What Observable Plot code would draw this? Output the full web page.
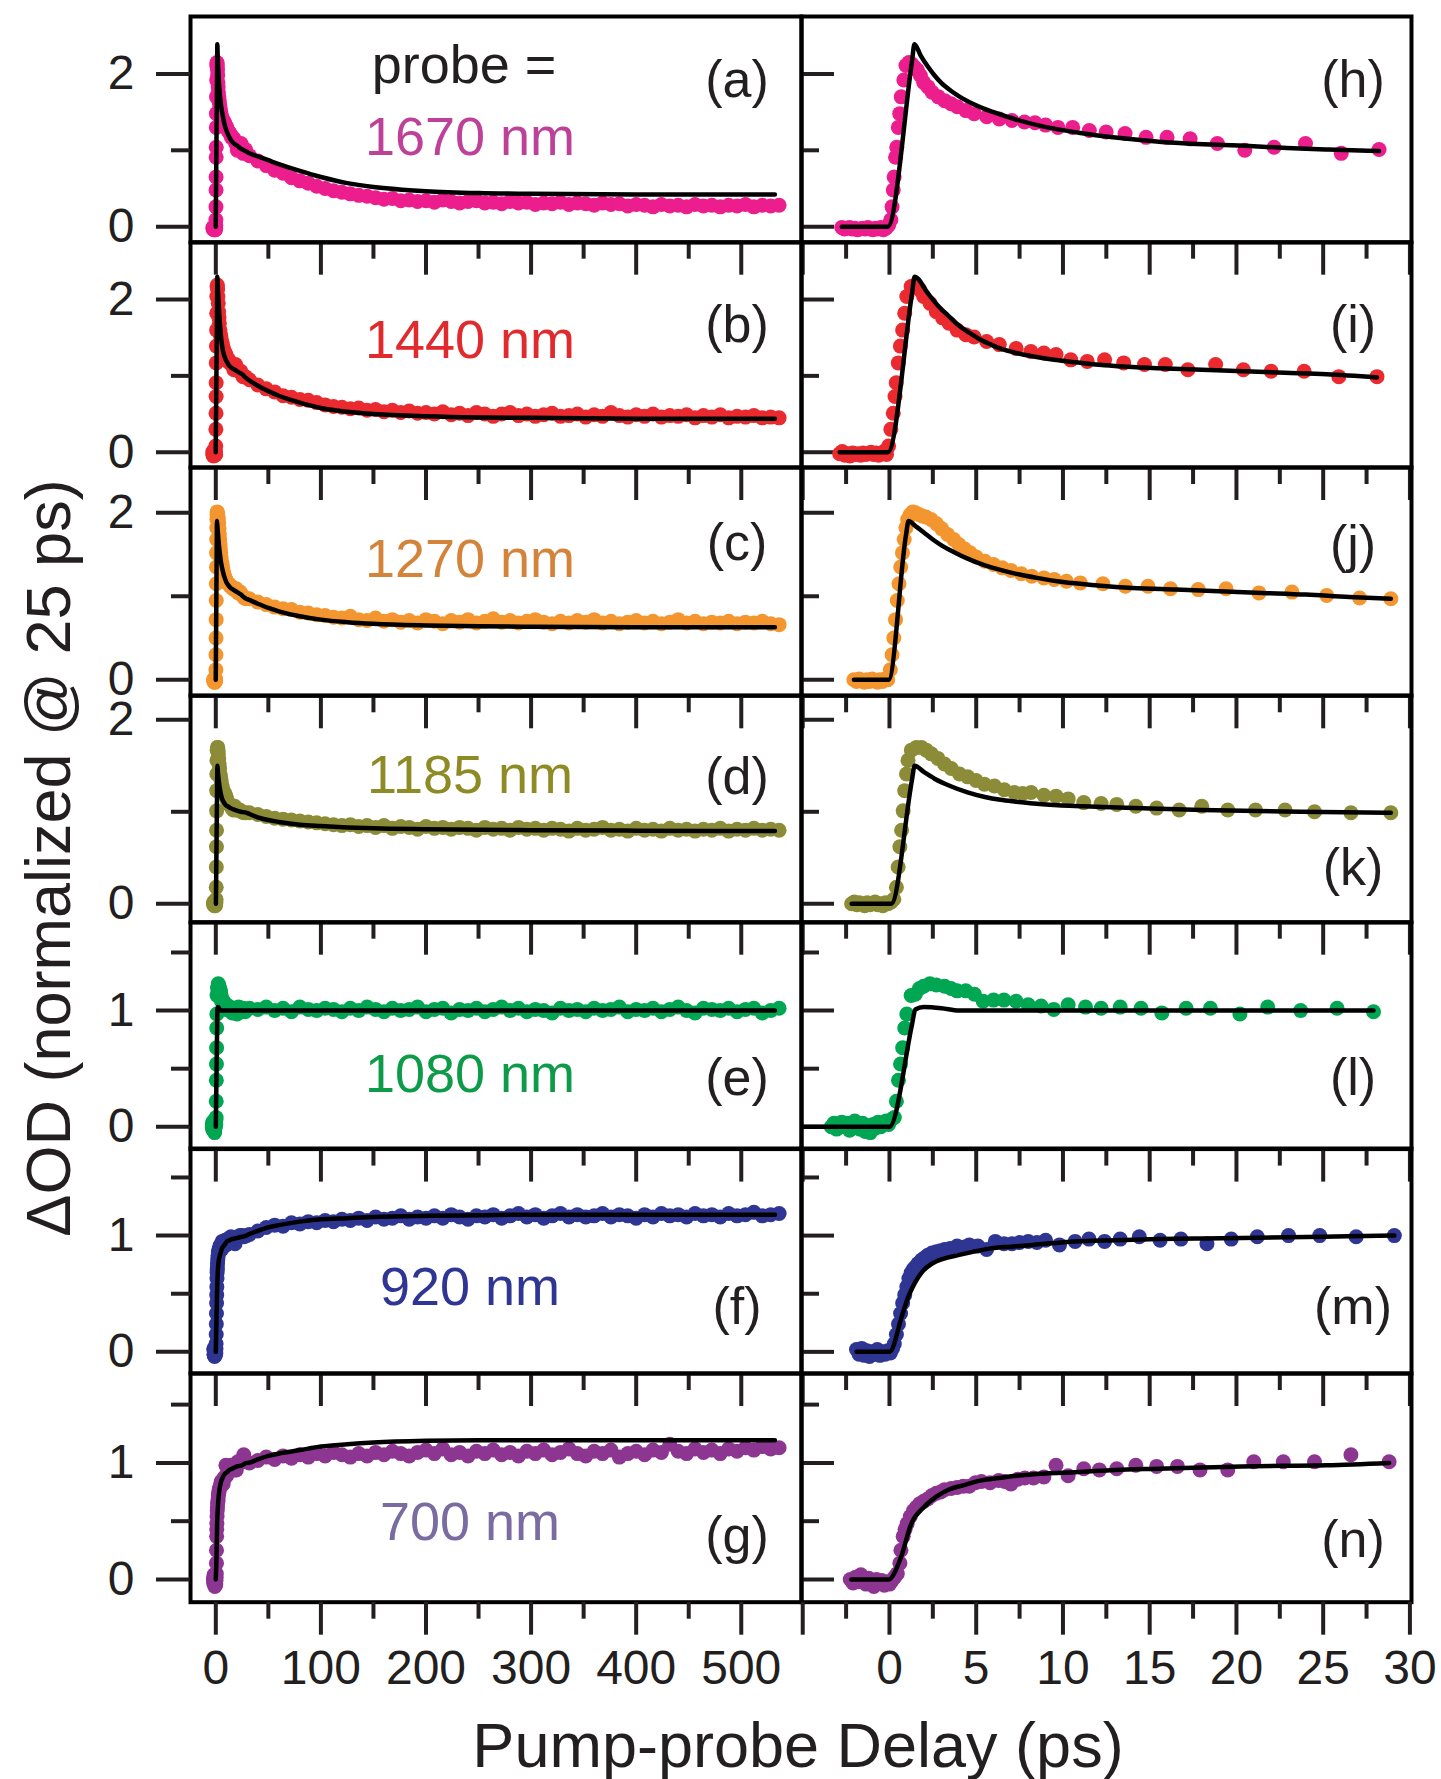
<!DOCTYPE html>
<html><head><meta charset="utf-8">
<script src="https://cdn.jsdelivr.net/npm/d3@7"></script>
<script src="https://cdn.jsdelivr.net/npm/@observablehq/plot@0.6"></script>
<style>
body{margin:0;background:#fff;}
#fig{position:relative;width:1441px;height:1779px;background:#fff;overflow:hidden;}
#fig svg{position:absolute;overflow:visible;}
</style></head><body><div id="fig"></div>
<script>
// ---------- DATA ----------
const wavelengths = ["1670 nm","1440 nm","1270 nm","1185 nm","1080 nm","920 nm","700 nm"];
const lettersLeft = ["(a)","(b)","(c)","(d)","(e)","(f)","(g)"];
const lettersRight = ["(h)","(i)","(j)","(k)","(l)","(m)","(n)"];

const xTicksLeftMajor = [0,100,200,300,400,500];
const xTicksLeftMinor = [50,150,250,350,450];
const xTicksRightMajor = [-5,0,5,10,15,20,25,30];
const xTicksRightMinor = [-2.5,2.5,7.5,12.5,17.5,22.5,27.5];
const xLabelsLeft = [0,100,200,300,400,500];
const xLabelsRight = [0,5,10,15,20,25,30];
const yMajorHigh = [0,2], yMinorHigh = [1];
const yMajorLow = [0,1], yMinorLow = [0.5,1.5];

// early-time data (delay ps, dOD) shown in the right column and in the left column
const short1670 = [[-2.75,-0.01],[-2.6,-0.03],[-2.45,-0.02],[-2.3,-0.01],[-2.15,-0.03],[-2.0,-0.02],[-1.85,-0.04],[-1.7,-0.03],[-1.55,-0.02],[-1.4,-0.03],[-1.25,-0.01],[-1.1,-0.03],[-0.95,-0.04],[-0.8,-0.02],[-0.65,-0.03],[-0.5,-0.01],[-0.35,-0.04],[-0.2,-0.02],[-0.05,0.02],
[0.08,0.09],[0.15,0.26],[0.22,0.48],[0.27,0.65],[0.35,0.91],[0.42,1.04],[0.51,1.30],[0.59,1.48],[0.68,1.70],[0.83,1.92],[0.95,2.11],[1.12,2.15],[1.29,2.13],[1.44,2.09],[1.61,2.05],[1.78,1.98],[1.97,1.89],[2.22,1.83],[2.46,1.76],[2.82,1.70],[3.18,1.65],[3.55,1.61],[3.91,1.57],[4.40,1.52],[4.88,1.48],[5.61,1.44],[6.33,1.41],[7.06,1.39],[7.78,1.37],[8.39,1.36],[9.0,1.33],
[9.71,1.30],[10.56,1.30],[11.52,1.26],[12.49,1.24],[13.58,1.22],[14.79,1.17],[16.0,1.17],[17.33,1.15],[18.9,1.09],[20.48,1.00],[22.17,1.04],[23.98,1.09],[26.04,0.96],[28.22,1.01]];
const short1440 = [[-2.87,-0.02],[-2.72,0.01],[-2.57,-0.04],[-2.42,-0.02],[-2.27,-0.05],[-2.12,-0.01],[-1.97,-0.03],[-1.82,-0.02],[-1.67,-0.04],[-1.52,-0.01],[-1.37,-0.03],[-1.22,-0.02],[-1.07,0.0],[-0.92,-0.03],[-0.77,-0.01],[-0.62,-0.04],[-0.47,-0.02],[-0.32,0.01],[-0.17,-0.03],[-0.05,0.08],
[0.08,0.30],[0.22,0.51],[0.32,0.73],[0.39,0.91],[0.51,1.17],[0.63,1.39],[0.76,1.60],[0.88,1.82],[1.0,2.04],[1.25,2.17],[1.49,2.19],[1.73,2.13],[1.97,2.04],[2.34,1.95],[2.7,1.84],[3.06,1.76],[3.43,1.69],[3.9,1.60],[4.4,1.54],[4.88,1.51],[5.6,1.45],[6.33,1.41],[7.3,1.36],[8.15,1.32],[8.9,1.30],[9.6,1.28],
[10.45,1.21],[11.4,1.19],[12.4,1.21],[13.5,1.17],[14.7,1.15],[15.9,1.15],[17.2,1.08],[18.8,1.15],[20.4,1.08],[22.0,1.06],[23.9,1.06],[25.9,0.99],[28.1,0.99]];
const short1270 = [[-2.05,0.0],[-1.9,-0.02],[-1.75,0.01],[-1.6,-0.01],[-1.45,-0.03],[-1.3,0.0],[-1.15,-0.02],[-1.0,0.01],[-0.85,-0.01],[-0.7,-0.03],[-0.55,0.0],[-0.4,-0.02],[-0.25,0.01],[-0.1,0.0],
[0.05,0.12],[0.15,0.3],[0.25,0.5],[0.35,0.72],[0.45,0.95],[0.55,1.15],[0.65,1.35],[0.75,1.52],[0.85,1.68],[0.95,1.82],[1.05,1.92],[1.2,1.98],[1.35,2.01],[1.5,2.0],[1.7,1.98],[1.9,1.96],[2.1,1.95],[2.4,1.92],[2.7,1.87],[3.0,1.81],[3.35,1.74],[3.7,1.68],[4.0,1.62],[4.3,1.57],[4.65,1.52],[5.0,1.47],[5.5,1.42],[6.0,1.38],[6.5,1.34],[7.0,1.31],[7.6,1.27],[8.2,1.24],[8.9,1.22],[9.5,1.20],[10.2,1.18],
[11.0,1.16],[12.3,1.15],[13.6,1.12],[14.9,1.12],[16.2,1.09],[17.8,1.08],[19.4,1.09],[21.3,1.04],[23.2,1.05],[25.2,1.01],[27.1,0.98],[28.9,0.97]];
const short1185 = [[-2.18,0.0],[-2.03,0.02],[-1.88,-0.01],[-1.73,0.01],[-1.58,0.0],[-1.43,-0.02],[-1.28,0.01],[-1.13,-0.01],[-0.98,0.0],[-0.83,0.02],[-0.68,-0.01],[-0.53,0.0],[-0.38,-0.02],[-0.23,0.01],[-0.08,0.0],[0.1,0.02],[0.25,0.05],
[0.4,0.18],[0.5,0.40],[0.6,0.62],[0.7,0.80],[0.79,1.01],[0.88,1.23],[0.98,1.41],[1.07,1.56],[1.26,1.67],[1.55,1.70],[1.84,1.70],[2.12,1.67],[2.41,1.63],[2.79,1.58],[3.17,1.52],[3.56,1.47],[4.04,1.41],[4.51,1.38],[4.99,1.34],[5.47,1.30],[6.05,1.28],[6.62,1.24],[7.2,1.21],[7.68,1.20],[8.16,1.21],[8.9,1.18],[9.6,1.17],[10.3,1.14],
[11.2,1.10],[12.2,1.09],[13.1,1.08],[14.2,1.06],[15.4,1.04],[16.7,1.02],[18.0,1.06],[19.5,1.02],[21.1,1.02],[22.8,1.02],[24.5,1.0],[26.6,0.99],[28.9,0.99]];
const short1080 = [[-3.35,0.0],[-3.2,0.03],[-3.05,-0.02],[-2.9,0.01],[-2.75,0.04],[-2.6,0.0],[-2.45,0.03],[-2.3,-0.03],[-2.15,0.02],[-2.0,0.05],[-1.85,0.01],[-1.7,-0.02],[-1.55,0.03],[-1.4,-0.04],[-1.25,0.01],[-1.1,-0.05],[-0.95,0.02],[-0.8,-0.01],[-0.65,0.04],[-0.5,0.0],[-0.35,0.03],[-0.2,0.05],[-0.05,0.02],[0.1,0.06],
[0.28,0.08],[0.4,0.22],[0.52,0.40],[0.64,0.54],[0.76,0.68],[0.88,0.85],[1.0,0.97],[1.25,1.13],[1.49,1.14],[1.73,1.19],[1.97,1.21],[2.33,1.23],[2.7,1.22],[3.18,1.21],[3.55,1.19],[3.9,1.17],[4.4,1.17],[4.9,1.14],[5.4,1.08],[6.0,1.09],[6.6,1.09],[7.3,1.08],[8.0,1.05],[8.74,1.04],[9.47,1.01],
[10.3,1.05],[11.3,1.03],[12.2,1.02],[13.3,1.03],[14.5,1.02],[15.7,0.98],[17.1,1.02],[18.5,1.02],[20.2,0.97],[21.8,1.03],[23.7,1.0],[25.8,1.02],[27.9,0.99]];
const short920 = [[-1.9,0.02],[-1.75,-0.02],[-1.6,0.03],[-1.45,-0.03],[-1.3,0.01],[-1.15,-0.04],[-1.0,0.0],[-0.85,-0.02],[-0.7,0.02],[-0.55,-0.03],[-0.4,0.0],[-0.25,-0.02],[-0.1,0.01],[0.05,-0.01],[0.18,0.03],
[0.28,0.07],[0.4,0.15],[0.52,0.24],[0.64,0.33],[0.76,0.42],[0.88,0.49],[1.0,0.56],[1.12,0.63],[1.25,0.68],[1.37,0.71],[1.49,0.73],[1.65,0.76],[1.85,0.79],[2.03,0.81],[2.21,0.83],[2.45,0.85],[2.7,0.86],[2.95,0.87],[3.18,0.88],[3.5,0.89],[3.9,0.91],[4.25,0.90],[4.6,0.92],[5.1,0.91],[5.6,0.88],[6.1,0.95],[6.6,0.93],[7.06,0.93],[7.5,0.94],[8.0,0.95],[8.5,0.94],[9.0,0.96],
[9.8,0.92],[10.7,0.95],[11.5,0.97],[12.4,0.95],[13.3,0.97],[14.4,0.99],[15.6,0.96],[16.8,0.97],[18.3,0.93],[19.7,0.97],[21.2,0.99],[23.0,1.0],[24.8,1.0],[26.9,0.99],[29.1,1.0]];
const short700 = [[-2.26,0.0],[-2.1,-0.03],[-1.95,0.02],[-1.8,-0.02],[-1.65,0.04],[-1.5,0.0],[-1.35,-0.04],[-1.2,0.01],[-1.05,-0.02],[-0.9,-0.06],[-0.75,0.0],[-0.6,-0.03],[-0.45,-0.01],[-0.3,-0.05],[-0.15,-0.02],[0.0,-0.04],[0.15,-0.01],[0.3,0.02],[0.45,0.05],
[0.6,0.14],[0.66,0.25],[0.79,0.37],[0.9,0.43],[1.02,0.48],[1.2,0.54],[1.38,0.59],[1.55,0.62],[1.74,0.65],[1.97,0.67],[2.2,0.69],[2.45,0.72],[2.7,0.74],[2.95,0.75],[3.17,0.77],[3.55,0.78],[3.9,0.79],[4.25,0.80],[4.6,0.80],[4.95,0.83],[5.3,0.84],[5.8,0.83],[6.3,0.85],[6.65,0.84],[7.0,0.82],[7.4,0.86],[7.8,0.87],[8.3,0.87],[8.9,0.88],
[9.6,0.98],[10.3,0.89],[11.2,0.95],[12.1,0.94],[13.1,0.95],[14.2,0.98],[15.4,0.97],[16.6,0.97],[17.9,0.94],[19.5,0.94],[21.0,1.01],[22.7,1.01],[24.5,1.01],[26.6,1.07],[28.8,1.01]];

// long-time data (left column only), shared delay grid
const tLong = [32,40,48,56,64,72,80,88,96,104,112,120,128,136,144,152,160,168,176,184,192,200,208,216,224,232,240,248,256,264,272,280,288,296,304,312,320,328,336,344,352,360,368,376,384,392,400,408,416,424,432,440,448,456,464,472,480,488,496,504,512,520,528,536];
const long1670 = [0.93,0.86,0.80,0.74,0.70,0.64,0.60,0.57,0.53,0.50,0.47,0.45,0.43,0.41,0.40,0.38,0.36,0.37,0.34,0.35,0.33,0.34,0.32,0.35,0.33,0.31,0.33,0.34,0.31,0.32,0.30,0.33,0.31,0.32,0.29,0.31,0.30,0.32,0.29,0.31,0.30,0.28,0.31,0.29,0.30,0.27,0.29,0.28,0.26,0.29,0.27,0.28,0.26,0.29,0.27,0.28,0.26,0.28,0.27,0.29,0.26,0.28,0.27,0.28];
const long1440 = [0.95,0.88,0.83,0.79,0.74,0.72,0.69,0.68,0.65,0.62,0.60,0.59,0.57,0.58,0.55,0.56,0.53,0.55,0.52,0.54,0.51,0.52,0.50,0.53,0.49,0.51,0.48,0.52,0.50,0.47,0.50,0.52,0.48,0.50,0.47,0.49,0.51,0.47,0.48,0.50,0.46,0.49,0.47,0.52,0.48,0.46,0.49,0.47,0.50,0.46,0.48,0.47,0.49,0.45,0.48,0.46,0.49,0.45,0.47,0.46,0.48,0.45,0.46,0.45];
const long1270 = [0.97,0.93,0.90,0.87,0.85,0.84,0.81,0.80,0.78,0.77,0.75,0.74,0.76,0.72,0.71,0.74,0.70,0.72,0.69,0.71,0.68,0.72,0.70,0.67,0.71,0.69,0.72,0.68,0.70,0.73,0.69,0.71,0.68,0.70,0.72,0.69,0.67,0.70,0.68,0.71,0.69,0.72,0.68,0.70,0.67,0.69,0.71,0.68,0.70,0.67,0.69,0.72,0.68,0.70,0.67,0.69,0.68,0.70,0.67,0.69,0.68,0.70,0.67,0.66];
const long1185 = [0.99,0.97,0.95,0.93,0.92,0.91,0.90,0.89,0.88,0.87,0.86,0.85,0.86,0.84,0.85,0.83,0.85,0.82,0.84,0.83,0.81,0.84,0.82,0.83,0.81,0.83,0.82,0.80,0.83,0.81,0.82,0.80,0.83,0.81,0.82,0.80,0.82,0.81,0.79,0.82,0.80,0.81,0.83,0.80,0.81,0.79,0.82,0.80,0.81,0.79,0.82,0.80,0.81,0.79,0.81,0.80,0.82,0.79,0.81,0.80,0.82,0.80,0.81,0.80];
const long1080 = [1.02,1.01,1.03,1.00,1.02,0.99,1.03,1.01,1.00,1.02,1.01,0.99,1.02,1.00,1.03,1.01,0.99,1.02,1.00,1.01,1.03,0.99,1.01,1.02,0.98,1.01,1.00,1.02,0.99,1.01,1.03,1.00,1.02,0.99,1.01,1.00,0.98,1.02,1.00,1.01,0.99,1.02,1.00,1.01,1.03,0.99,1.01,1.00,1.02,0.99,1.01,1.03,1.00,0.98,1.02,1.01,1.00,1.02,0.99,1.01,1.02,0.98,1.00,1.02];
const long920 = [1.01,1.04,1.07,1.09,1.08,1.11,1.10,1.12,1.11,1.13,1.12,1.14,1.13,1.15,1.13,1.16,1.14,1.15,1.17,1.14,1.16,1.15,1.17,1.15,1.18,1.16,1.14,1.17,1.16,1.18,1.15,1.17,1.19,1.16,1.18,1.15,1.17,1.19,1.16,1.18,1.16,1.17,1.19,1.16,1.18,1.17,1.15,1.18,1.16,1.19,1.17,1.18,1.16,1.19,1.17,1.18,1.16,1.19,1.17,1.18,1.20,1.17,1.18,1.19];
const long700 = [1.00,1.02,1.05,1.03,1.06,1.04,1.07,1.05,1.08,1.06,1.09,1.07,1.05,1.08,1.06,1.09,1.07,1.10,1.08,1.06,1.09,1.11,1.08,1.12,1.07,1.09,1.06,1.10,1.08,1.11,1.07,1.09,1.06,1.10,1.08,1.11,1.07,1.09,1.12,1.08,1.06,1.10,1.08,1.11,1.05,1.08,1.10,1.07,1.11,1.09,1.16,1.10,1.08,1.12,1.09,1.11,1.08,1.12,1.10,1.13,1.11,1.14,1.12,1.13];

// fitted curves (delay ps, dOD)
const fit1670 = [[-2.75,0],[-0.1,0],[1.3,2.17],[1.44,2.39],[1.8,2.24],[2.2,2.1],[2.6,1.98],[3.0,1.88],[3.6,1.77],[4.2,1.68],[4.8,1.61],[5.4,1.55],[6.0,1.5],[7.2,1.41],[8.9,1.31],[10.9,1.23],[13.3,1.16],[15.7,1.11],[18.1,1.08],[20.5,1.06],[22.9,1.03],[25.3,1.01],[28.22,0.99],[30,0.975],[40,0.92],[50,0.87],[60,0.82],[80,0.73],[100,0.65],[125,0.57],[150,0.52],[200,0.465],[250,0.44],[300,0.43],[400,0.42],[532,0.42]];
const fit1440 = [[-2.87,0],[-0.09,0],[1.3,2.08],[1.45,2.3],[2.22,2.08],[2.8,1.92],[3.43,1.78],[4.0,1.66],[4.64,1.56],[5.2,1.48],[5.85,1.41],[6.5,1.35],[7.3,1.3],[8.4,1.25],[9.5,1.21],[10.7,1.18],[11.9,1.15],[13.7,1.12],[15.5,1.1],[18,1.08],[20.4,1.06],[22.8,1.04],[25.2,1.02],[28.1,0.98],[30,0.96],[40,0.87],[50,0.8],[60,0.74],[80,0.65],[100,0.58],[125,0.53],[150,0.5],[200,0.47],[250,0.455],[300,0.45],[400,0.44],[532,0.44]];
const fit1270 = [[-2.05,0],[-0.05,0],[0.95,1.73],[1.1,1.9],[1.5,1.84],[2.0,1.76],[2.5,1.68],[3.0,1.61],[3.7,1.53],[4.5,1.45],[5.5,1.37],[6.5,1.31],[7.5,1.26],[8.5,1.22],[10,1.17],[12,1.13],[14,1.1],[16.5,1.08],[19,1.06],[21.5,1.04],[24,1.02],[26.5,0.99],[28.9,0.97],[30,0.965],[40,0.91],[50,0.86],[60,0.82],[80,0.76],[100,0.72],[125,0.69],[150,0.67],[200,0.65],[250,0.64],[300,0.635],[400,0.63],[532,0.63]];
const fit1185 = [[-2.18,0],[0.1,0],[1.3,1.35],[1.45,1.5],[2.0,1.43],[2.6,1.36],[3.5,1.28],[4.5,1.21],[5.5,1.16],[6.4,1.13],[7.3,1.11],[8.3,1.09],[9.7,1.07],[11.2,1.06],[14.1,1.04],[18.0,1.02],[23.7,1.0],[28.9,0.99],[30,0.985],[40,0.94],[50,0.91],[60,0.89],[80,0.86],[100,0.845],[125,0.83],[150,0.82],[200,0.81],[300,0.8],[400,0.795],[532,0.79]];
const fit1080 = [[-5,0],[0.0,0],[1.3,0.88],[1.49,1.01],[1.97,1.03],[3.0,1.02],[4.0,1.0],[10,1.0],[27.9,1.0],[30,1.0],[100,1.0],[532,1.0]];
const fit920 = [[-1.9,0],[0.0,0],[0.76,0.33],[1.1,0.48],[1.49,0.6],[1.9,0.69],[2.46,0.76],[3.1,0.8],[3.9,0.83],[4.8,0.86],[5.85,0.89],[7.0,0.905],[8.26,0.92],[10.7,0.95],[13,0.96],[15.5,0.97],[18,0.975],[20.3,0.98],[25,0.99],[29.1,1.0],[30,1.005],[40,1.04],[50,1.07],[60,1.09],[80,1.12],[100,1.14],[125,1.15],[150,1.16],[200,1.17],[250,1.175],[300,1.18],[400,1.18],[532,1.18]];
const fit700 = [[-2.2,0],[-0.05,0],[0.66,0.19],[1.26,0.48],[1.98,0.62],[2.7,0.71],[3.4,0.77],[4.3,0.81],[5.3,0.85],[6.3,0.87],[7.3,0.89],[9,0.91],[10.7,0.92],[13,0.94],[15.5,0.95],[18,0.96],[20.3,0.97],[25.2,0.98],[28.8,1.0],[30,1.0],[40,1.03],[50,1.06],[60,1.08],[80,1.11],[100,1.14],[125,1.16],[150,1.175],[200,1.19],[250,1.195],[300,1.195],[532,1.195]];

const dotColors = ["#EC1D8D","#EA2A2F","#F4962F","#8C8C38","#00A651","#2E3592","#8C3591"];
const labelColors = ["#BE4199","#E12A2E","#D4843A","#8E8A24","#0D9B4A","#2F3593","#7A6BA0"];

// ---------- LAYOUT ----------
const FONT = '"Liberation Sans", Arial, Helvetica, sans-serif';
const INK = "#231f20";
const rowTops = [16,241.7,466.7,695,921.7,1148.3,1373.3,1602];
const yDomains = [[-0.203,2.752],[-0.2,2.747],[-0.192,2.542],[-0.2,2.264],[-0.192,1.758],[-0.186,1.749],[-0.195,1.767]];
const colLeft = {x0:190, x1:801, domain:[-24.07,557.3], major:xTicksLeftMajor, minor:xTicksLeftMinor, labels:xLabelsLeft};
const colRight = {x0:801, x1:1411, domain:[-5.07,30.09], major:xTicksRightMajor, minor:xTicksRightMinor, labels:xLabelsRight};
const labelBaselines = [155,358.3,577.3,793.3,1091.7,1305,1540];
const letterBaseL = [97,342,560,793.5,1095,1323.5,1553];
const letterBaseR = [97,342,562,885,1095,1323.5,1557];

const shorts = [short1670,short1440,short1270,short1185,short1080,short920,short700];
const longs = [long1670,long1440,long1270,long1185,long1080,long920,long700];
const fits = [fit1670,fit1440,fit1270,fit1185,fit1080,fit920,fit700];

const fig = document.getElementById("fig");
const blank = () => "";

function panel(i, col, side) {
  const last = i === 6;
  const top = rowTops[i], h = rowTops[i+1] - top, w = col.x1 - col.x0;
  const pairs = side === "L" ? shorts[i].concat(tLong.map((t, k) => [t, longs[i][k]])) : shorts[i];
  const data = pairs.map(([t, v]) => ({t, v}));
  const tMax = d3.max(shorts[i], d => d[0]);
  const fitData = fits[i]
    .filter(([t]) => side === "L" ? t >= -0.15 : t <= tMax + 1e-6)
    .map(([t, v]) => ({t, v}));
  const hi = i < 4;
  const yMaj = hi ? yMajorHigh : yMajorLow, yMin = hi ? yMinorHigh : yMinorLow;
  const marks = [
    Plot.dot(data, {x: "t", y: "v", r: 7.5, fill: dotColors[i], stroke: "none"}),
    Plot.line(fitData, {x: "t", y: "v", stroke: "#000", strokeWidth: 4.5, curve: "monotone-x"}),
    Plot.frame({stroke: "#000", strokeWidth: 4}),
    Plot.axisX(col.major, {anchor: "bottom", tickSize: 33, strokeWidth: 4, tickFormat: blank, label: null}),
    Plot.axisX(col.minor, {anchor: "bottom", tickSize: 17, strokeWidth: 4, tickFormat: blank, label: null})
  ];
  if (last) marks.push(Plot.axisX(col.labels, {anchor: "bottom", tickSize: 0, tickPadding: 48, fontSize: 48, tickFormat: d => String(d), label: null}));
  if (side === "L") {
    marks.push(
      Plot.axisY(yMaj, {anchor: "left", tickSize: 34, tickPadding: 22, strokeWidth: 4, fontSize: 48, tickFormat: d => String(d), label: null}),
      Plot.axisY(yMin, {anchor: "left", tickSize: 19, strokeWidth: 4, tickFormat: blank, label: null}),
      Plot.axisY(yMaj, {anchor: "right", tickSize: 32, strokeWidth: 4, tickFormat: blank, label: null}),
      Plot.axisY(yMin, {anchor: "right", tickSize: 17, strokeWidth: 4, tickFormat: blank, label: null})
    );
  }
  const svg = Plot.plot({
    width: w, height: h,
    marginTop: 0, marginRight: 0, marginBottom: 0, marginLeft: 0,
    x: {domain: col.domain, axis: null},
    y: {domain: yDomains[i], axis: null},
    style: {background: "none", overflow: "visible", fontFamily: FONT, color: INK},
    marks
  });
  svg.style.position = "absolute";
  svg.style.left = col.x0 + "px";
  svg.style.top = top + "px";
  svg.style.maxWidth = "none";
  fig.appendChild(svg);
}

for (let i = 0; i < 7; i++) panel(i, colLeft, "L");
for (let i = 0; i < 7; i++) panel(i, colRight, "R");

// ---------- TEXT OVERLAY ----------
const ov = d3.select(fig).append("svg")
  .attr("width", 1441).attr("height", 1779)
  .style("left", "0px").style("top", "0px")
  .style("font-family", FONT).style("pointer-events", "none");

ov.append("text").attr("x", 464).attr("y", 83).attr("text-anchor", "middle")
  .attr("font-size", 54).attr("fill", INK).text("probe =");
wavelengths.forEach((s, i) => {
  ov.append("text").attr("x", 470).attr("y", labelBaselines[i]).attr("text-anchor", "middle")
    .attr("font-size", 54).attr("fill", labelColors[i]).text(s);
  ov.append("text").attr("x", 737).attr("y", letterBaseL[i]).attr("text-anchor", "middle")
    .attr("font-size", 52).attr("fill", INK).text(lettersLeft[i]);
  ov.append("text").attr("x", 1353).attr("y", letterBaseR[i]).attr("text-anchor", "middle")
    .attr("font-size", 52).attr("fill", INK).text(lettersRight[i]);
});
ov.append("text").attr("transform", "translate(70,858) rotate(-90)").attr("text-anchor", "middle")
  .attr("font-size", 63).attr("fill", INK).text("ΔOD (normalized @ 25 ps)");
ov.append("text").attr("x", 798).attr("y", 1767).attr("text-anchor", "middle")
  .attr("font-size", 63).attr("fill", INK).text("Pump-probe Delay (ps)");
</script>
</body></html>
